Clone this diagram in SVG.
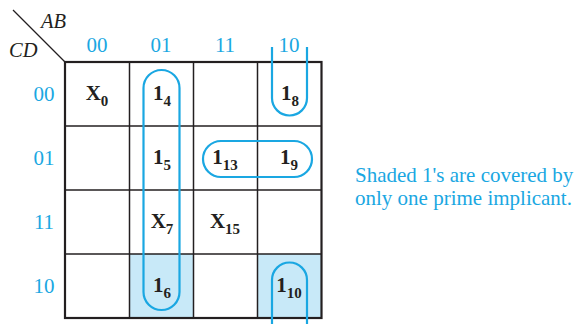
<svg xmlns="http://www.w3.org/2000/svg" width="576" height="324" viewBox="0 0 576 324">
<style>
.lbl{font-family:"Liberation Serif",serif;font-size:21px;fill:#1aa7e2;text-anchor:middle}
.var{font-family:"Liberation Serif",serif;font-size:20.5px;font-style:italic;fill:#231f20}
.cell{font-family:"Liberation Serif",serif;font-size:21px;font-weight:bold;fill:#231f20;text-anchor:middle}
.sub{font-size:15px}
.grid{stroke:#231f20;fill:none}
.loop{stroke:#1aa7e2;stroke-width:2.2;fill:none}
.note{font-family:"Liberation Serif",serif;font-size:21px;fill:#1aa7e2}
</style>
<rect x="129.5" y="254" width="64" height="64" fill="#c8e9f8"/>
<rect x="257.5" y="254" width="64" height="64" fill="#c8e9f8"/>
<g id="grid">
<line class="grid" x1="13" y1="10" x2="65" y2="62" stroke-width="1.3"/>
<line class="grid" x1="129.5" y1="62" x2="129.5" y2="318" stroke-width="1.5"/>
<line class="grid" x1="193.5" y1="62" x2="193.5" y2="318" stroke-width="1.5"/>
<line class="grid" x1="257.5" y1="62" x2="257.5" y2="318" stroke-width="1.5"/>
<line class="grid" x1="65" y1="126" x2="321.5" y2="126" stroke-width="1.5"/>
<line class="grid" x1="65" y1="190" x2="321.5" y2="190" stroke-width="1.5"/>
<line class="grid" x1="65" y1="254" x2="321.5" y2="254" stroke-width="1.5"/>
<rect class="grid" x="65" y="62" width="256.5" height="256" stroke-width="2.2"/>
</g>
<text class="var" x="41" y="28">AB</text>
<text class="var" x="9" y="57">CD</text>
<g id="colLabels">
<text class="lbl" x="97" y="52">00</text>
<text class="lbl" x="161" y="52">01</text>
<text class="lbl" x="225" y="52">11</text>
<text class="lbl" x="289" y="52">10</text>
</g>
<g id="rowLabels">
<text class="lbl" x="44" y="101">00</text>
<text class="lbl" x="44" y="165">01</text>
<text class="lbl" x="44" y="229">11</text>
<text class="lbl" x="44" y="293">10</text>
</g>
<g id="cells">
<text class="cell" x="97" y="100">X<tspan class="sub" dy="6">0</tspan></text>
<text class="cell" x="162" y="100">1<tspan class="sub" dy="6">4</tspan></text>
<text class="cell" x="290" y="100">1<tspan class="sub" dy="6">8</tspan></text>
<text class="cell" x="162" y="164">1<tspan class="sub" dy="6">5</tspan></text>
<text class="cell" x="225" y="164">1<tspan class="sub" dy="6">13</tspan></text>
<text class="cell" x="289" y="164">1<tspan class="sub" dy="6">9</tspan></text>
<text class="cell" x="162" y="228">X<tspan class="sub" dy="6">7</tspan></text>
<text class="cell" x="225" y="228">X<tspan class="sub" dy="6">15</tspan></text>
<text class="cell" x="162" y="292">1<tspan class="sub" dy="6">6</tspan></text>
<text class="cell" x="289" y="292">1<tspan class="sub" dy="6">10</tspan></text>
</g>
<g id="loops">
<rect class="loop" x="143.5" y="70" width="36" height="240" rx="18"/>
<rect class="loop" x="203" y="141" width="109" height="36" rx="18"/>
<path class="loop" d="M272,47 V98 A17.5,17.5 0 0 0 307,98 V47"/>
<path class="loop" d="M272,325 V280 A17.5,17.5 0 0 1 307,280 V325"/>
</g>
<text class="note" x="355" y="182">Shaded 1's are covered by</text>
<text class="note" x="355" y="205">only one prime implicant.</text>
</svg>
